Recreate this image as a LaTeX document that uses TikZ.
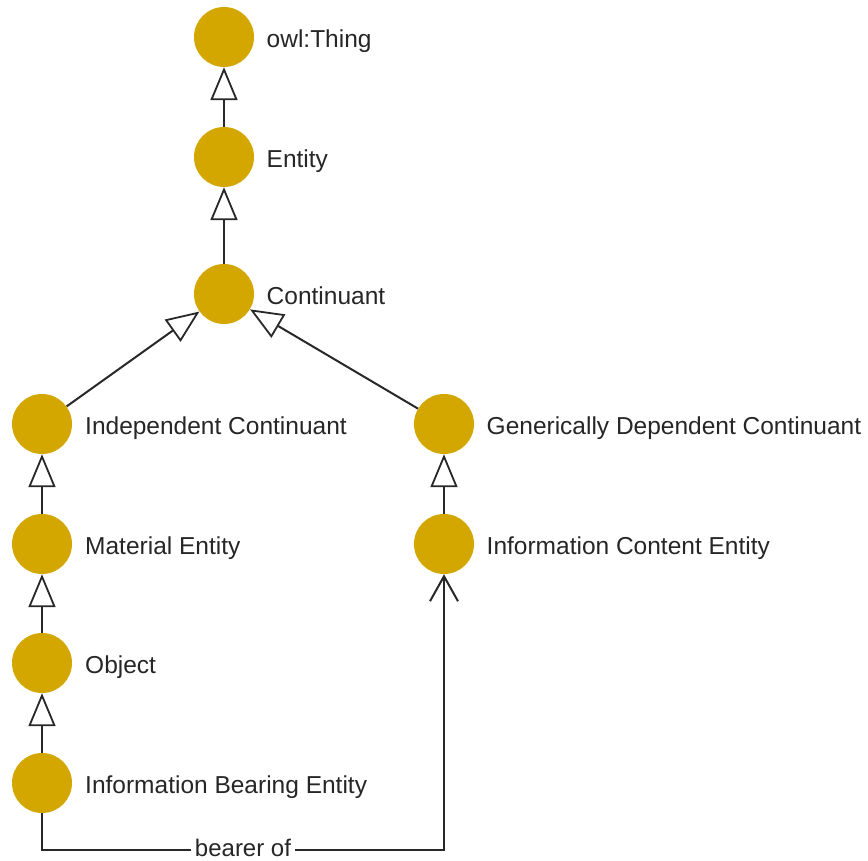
\documentclass[tikz,border=0pt]{standalone}
\usepackage{fontspec}
\setmainfont{Liberation Sans}
\usetikzlibrary{arrows.meta}
\definecolor{classgold}{RGB}{211,167,0}
\definecolor{edgegrey}{RGB}{40,40,40}
\begin{document}
\begin{tikzpicture}[x=1pt,y=-1pt,
  cls/.style={circle,fill=classgold,minimum size=60pt,inner sep=0pt},
  lbl/.style={anchor=base west,inner sep=0pt,font=\fontsize{24.5pt}{29pt}\selectfont,text=black!85},
  isa/.style={draw=edgegrey,line width=2pt,-{Triangle[length=33pt,width=27pt,fill=white,line width=1.8pt]}},
  rel/.style={draw=edgegrey,line width=2pt,-{Straight Barb[length=25pt,width=28pt,line width=2pt]}},
  rellbl/.style={fill=white,inner xsep=4pt,inner ysep=0pt,yshift=2pt,font=\fontsize{24pt}{29pt}\selectfont,text=black!85}
  ]
\useasboundingbox (0,0) rectangle (868,861);

% classes
\node[cls] (thing)  at (224,37)  {};
\node[cls] (entity) at (224,157) {};
\node[cls] (cont)   at (224,294) {};
\node[cls] (indep)  at (42,424)  {};
\node[cls] (gdc)    at (444,424) {};
\node[cls] (mat)    at (42,544)  {};
\node[cls] (ice)    at (444,544) {};
\node[cls] (obj)    at (42,663)  {};
\node[cls] (ibe)    at (42,783)  {};

% class names
\node[lbl] (thingL)  at (266.5,47.5)  {owl:Thing};
\node[lbl] (entityL) at (266.5,167.5) {Entity};
\node[lbl] (contL)   at (266.5,304.5) {Continuant};
\node[lbl] (indepL)  at (85,434.5)    {Independent Continuant};
\node[lbl] (gdcL)    at (486.5,434.5) {Generically Dependent Continuant};
\node[lbl] (matL)    at (85,554.5)    {Material Entity};
\node[lbl] (iceL)    at (486.5,554.5) {Information Content Entity};
\node[lbl] (objL)    at (85,673.5)    {Object};
\node[lbl] (ibeL)    at (85,793.5)    {Information Bearing Entity};

% subclass links
\draw[isa] (entity) -- (thing);
\draw[isa] (cont) -- (entity);
\draw[isa] (indep) -- (cont);
\draw[isa] (gdc) -- (cont);
\draw[isa] (mat) -- (indep);
\draw[isa] (obj) -- (mat);
\draw[isa] (ibe) -- (obj);
\draw[isa] (ice) -- (gdc);

% object property
\coordinate (bl) at (42,850);
\coordinate (br) at (444,850);
\draw[rel] (ibe) -- (bl) -- node[rellbl] (bearer) {bearer of} (br) -- (ice);
\end{tikzpicture}
\end{document}
